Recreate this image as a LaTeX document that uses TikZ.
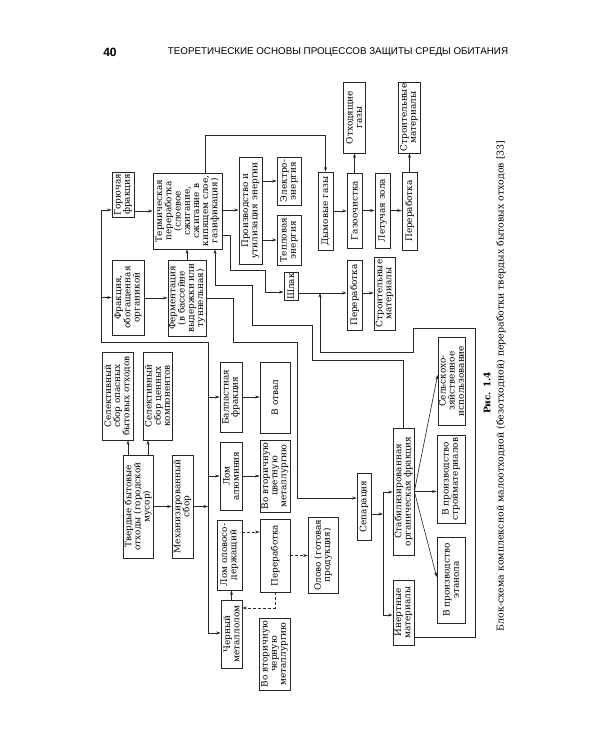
\documentclass[tikz,border=0pt]{standalone}
\usepackage{fontspec}
\setmainfont{DejaVu Serif}
\newfontfamily\headfont{Liberation Sans}
\usetikzlibrary{arrows.meta}

\tikzset{
  blk/.style={draw=black!85,line width=0.7pt,rotate=90,inner sep=0.8pt,align=center,
    font=\fontsize{8.9}{9.2}\selectfont},
  sz/.style 2 args={minimum width=#1pt,minimum height=#2pt},
}

\begin{document}
\begin{tikzpicture}[x=1pt,y=-1pt,line width=0.6pt,draw=black!85,
    >={Stealth[length=4.5pt,width=3pt]}]
\useasboundingbox (0,0) rectangle (600,750);

% page head
\node[font=\headfont\bfseries\fontsize{12}{12}\selectfont] (pg) at (110,52) {40};
\node[font=\headfont\fontsize{9.8}{10}\selectfont] (head) at (338,52)
  {ТЕОРЕТИЧЕСКИЕ ОСНОВЫ ПРОЦЕССОВ ЗАЩИТЫ СРЕДЫ ОБИТАНИЯ};

% upper part
\node[blk,sz={45}{22}] (gor) at (123,194.5) {Горючая\\фракция};
\node[blk,sz={75}{32}] (frak) at (128,297.5) {Фракция,\\обогащенная\\органикой};
\node[blk,sz={76}{69}] (term) at (187.5,211) {Термическая\\переработка\\(слоевое\\сжигание,\\сжигание в\\кипящем слое,\\газификация)};
\node[blk,sz={76}{38}] (ferm) at (187,298) {Ферментация\\(в бассейне\\выдержки или\\туннельная)};
\node[blk,sz={107}{23}] (proizv) at (250.5,210.5) {Производство и\\утилизация энергии};
\node[blk,sz={48}{24}] (elek) at (289,181) {Электро-\\энергия};
\node[blk,sz={50}{24}] (tepl) at (289,240) {Тепловая\\энергия};
\node[blk,sz={27}{14}] (shlak) at (291,286.5) {Шлак};
\node[blk,sz={78}{15}] (dym) at (325.5,211) {Дымовые газы};
\node[blk,sz={75}{15}] (gazooch) at (354.5,210.5) {Газоочистка};
\node[blk,sz={75}{15}] (zola) at (382.5,210.5) {Летучая зола};
\node[blk,sz={78}{15}] (perer1) at (409.5,211) {Переработка};
\node[blk,sz={71}{22}] (otkh) at (354,117.5) {Отходящие\\газы};
\node[blk,sz={71}{22}] (stroi1) at (409,117.5) {Строительные\\материалы};
\node[blk,sz={70}{15}] (perer2) at (354.5,295) {Переработка};
\node[blk,sz={73}{21}] (stroi2) at (384.5,293.5) {Строительные\\материалы};

% lower part
\node[blk,sz={88}{31}] (selop) at (117.5,396) {Селективный\\сбор опасных\\бытовых отходов};
\node[blk,sz={88}{29}] (selcen) at (157.5,396) {Селективный\\сбор ценных\\компонентов};
\node[blk,sz={103}{30}] (tbo) at (138,506.5) {Твердые бытовые\\отходы (городской\\мусор)};
\node[blk,sz={103}{21}] (mekh) at (182.5,506.5) {Механизированный\\сбор};
\node[blk,sz={70}{22}] (ball) at (231,397) {Балластная\\фракция};
\node[blk,sz={71}{30}] (otval) at (275,397.5) {В отвал};
\node[blk,sz={68}{22}] (alum) at (231,476) {Лом\\алюминия};
\node[blk,sz={72}{30}] (cvet) at (275,476) {Во вторичную\\цветную\\металлургию};
\node[blk,sz={70}{25}] (olov) at (229.5,555) {Лом оловосо-\\держащий};
\node[blk,sz={73}{30}] (perer3) at (275,555.5) {Переработка};
\node[blk,sz={68}{21}] (cher) at (231.5,634) {Черный\\металлолом};
\node[blk,sz={72}{31}] (chermet) at (274.5,654) {Во вторичную\\черную\\металлургию};
\node[blk,sz={76}{30}] (olovo) at (323,555) {Олово (готовая\\продукция)};
\node[blk,sz={67}{14}] (sep) at (364,506.5) {Сепарация};
\node[blk,sz={127}{21}] (stab) at (403.5,491.5) {Стабилизированная\\органическая фракция};
\node[blk,sz={65}{21}] (inert) at (403.5,612.5) {Инертные\\материалы};
\node[blk,sz={88}{27}] (selkh) at (451.5,381) {Сельскохо-\\зяйственное\\использование};
\node[blk,sz={88}{28}] (stroimat) at (451,479) {В производство\\стройматериалов};
\node[blk,sz={86}{28}] (etan) at (451,580) {В производство\\этанола};

% caption
\node[rotate=90,font=\bfseries\fontsize{9}{9}\selectfont] (fig) at (487,393) {Рис. 1.4};
\node[rotate=90,font=\fontsize{9.4}{9.4}\selectfont] (capt) at (501,386)
  {Блок-схема комплексной малоотходной (безотходной) переработки твердых бытовых отходов [33]};

% collection bus
\coordinate (m1) at (101,210);
\coordinate (m2) at (208,633);
\draw (m1) |- (208,342) -- (m2);
\draw[->] (m1) -- (gor.north |- m1);
\draw[->] (m1 |- frak) -- (frak.north);
\draw[->] (tbo.south) -- (mekh.north);
\draw[->] (mekh.south) -- (mekh.south -| m2);
\draw[->] (tbo.east -| 128,0) -- (selop.west -| 128,0);
\draw[->] (tbo.east -| 148,0) -- (selcen.west -| 148,0);
\draw[->] (m2 |- ball) -- (ball.north);
\draw[->] (m2 |- alum) -- (alum.north);
\draw[->] (m2) -- (cher.north |- m2);
\draw[->] (ball.south) -- (ball.south -| otval.north);
\draw[->] (alum.south) -- (alum.south -| cvet.north);

% tin
\draw[->] (cher.east) -- (cher.east |- olov.west);
\draw[densely dashed,->] (olov.south |- 0,532) -- (perer3.north |- 0,532);
\draw[densely dashed,->] (perer3.west) |- (cher.south |- 0,608);
\draw[densely dashed,->] (perer3.south) -- (perer3.south -| olovo.north);

% thermal line
\draw[->] (gor.south |- term) -- (term.north);
\draw[->] (frak.south |- ferm) -- (ferm.north);
\draw[->] (ferm.east) -- (ferm.east |- term.west);
\draw[->] (term.south |- 0,210) -- (proizv.north |- 0,210);
\draw[->] (proizv.south |- elek) -- (elek.north);
\draw[->] (proizv.south |- tepl) -- (tepl.north);
\draw[->] (term.east -| 205,0) -- (205,135) -| (dym.east);
\draw[->] (term.south |- 0,235) -| (230,270) -| (265,292) -- (shlak.north |- 0,292);
\draw[->] (shlak.south |- 0,293) -- (perer2.north |- 0,293);
\draw[->] (perer2.south |- 0,293) -- (stroi2.north |- 0,293);
\draw[->] (dym.south) -- (dym.south -| gazooch.north);
\draw[->] (gazooch.south) -- (gazooch.south -| zola.north);
\draw[->] (zola.south) -- (zola.south -| perer1.north);
\draw[->] (gazooch.east) -- (gazooch.east |- otkh.west);
\draw[->] (perer1.east) -- (perer1.east |- stroi1.west);

% separation
\coordinate (s1) at (383,492);
\coordinate (s2) at (383,615);
\draw[->] (ferm.south) -| (233,342) -| (297,498) -- (sep.north |- 0,498);
\draw[->] (sep.south |- 0,514) -- (s1 |- 0,514);
\draw (s1) -- (s2);
\draw[->] (s1) -- (stab.north |- s1);
\draw[->] (s2) -- (inert.north |- s2);
\draw[->] (stab.south) -- (stroimat.north |- stab.south);
\draw[->] (stab.south) -- (selkh.north |- 0,375);
\draw[->] (stab.south) -- (etan.north |- 0,577);
\draw[->] (inert.south |- 0,637) -| (475,328) -| (413,352) -| (320,293);
\draw[->] (stab.east) |- (312,360) |- (252,325) |- (215,285) -- (term.west -| 215,0);
\end{tikzpicture}
\end{document}
